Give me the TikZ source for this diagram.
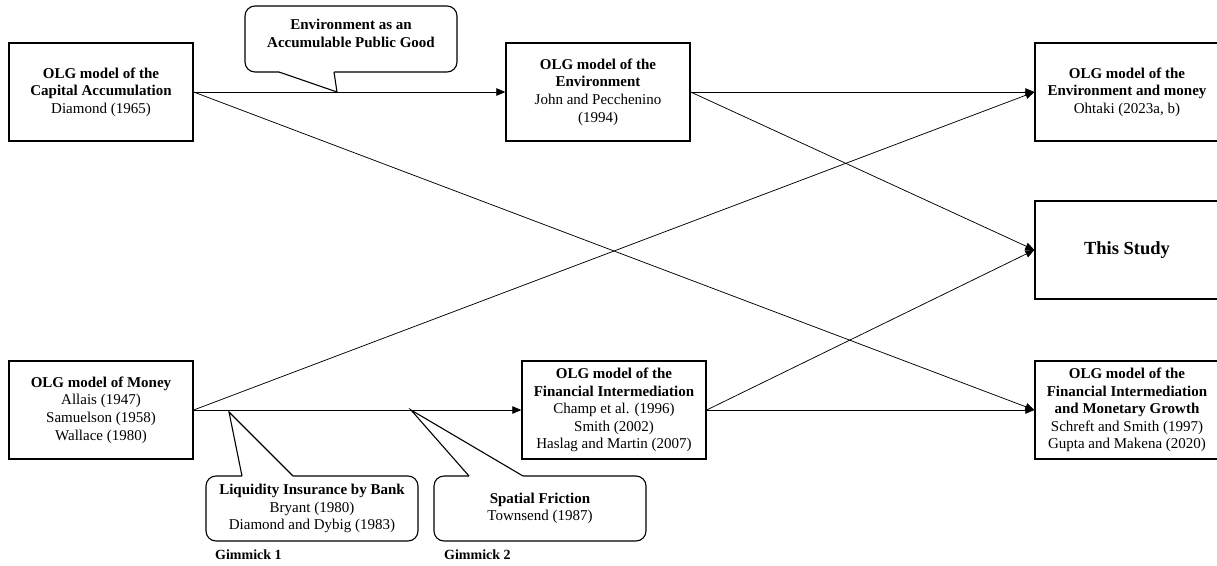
\documentclass[tikz,border=0pt]{standalone}
\usepackage{fontspec}
\setmainfont{Liberation Serif}
\usetikzlibrary{arrows.meta}
\begin{document}
\begin{tikzpicture}[x=1pt,y=-1pt,
  box/.style={draw,line width=1.3pt,minimum width=184pt,minimum height=98pt,inner sep=0pt,align=center,font=\fontsize{15}{17.6}\selectfont},
  conn/.style={line width=0.75pt,-{Triangle[length=9pt,width=7.5pt]}},
  callout/.style={draw,line width=1.1pt,rounded corners=10pt,minimum width=212pt,minimum height=65pt,inner sep=0pt,align=center,font=\fontsize{15}{17.6}\selectfont},
  tail/.style={line width=1.1pt,line join=miter},
  gim/.style={anchor=west,inner sep=0pt,font=\fontsize{14}{16}\selectfont\bfseries}]
\useasboundingbox (0,0) rectangle (1217,565);
% boxes
\node[box] (cap) at (101,92) {\textbf{OLG model of the}\\\textbf{Capital Accumulation}\\Diamond (1965)};
\node[box] (env) at (598,92) {\textbf{OLG model of the}\\\textbf{Environment}\\John and Pecchenino\\(1994)};
\node[box] (envm) at (1127,92) {\textbf{OLG model of the}\\\textbf{Environment and money}\\Ohtaki (2023a, b)};
\node[box] (study) at (1127,250) {\fontsize{18.5}{20}\selectfont\textbf{This Study}};
\node[box] (fimg) at (1127,410) {\textbf{OLG model of the}\\\textbf{Financial Intermediation}\\\textbf{and Monetary Growth}\\Schreft and Smith (1997)\\Gupta and Makena (2020)};
\node[box] (money) at (101,410) {\textbf{OLG model of Money}\\Allais (1947)\\Samuelson (1958)\\Wallace (1980)};
\node[box] (fi) at (614,410) {\textbf{OLG model of the}\\\textbf{Financial Intermediation}\\Champ et al. (1996)\\Smith (2002)\\Haslag and Martin (2007)};
% connectors
\draw[conn] (cap.east) -- (env.west);
\draw[conn] (cap.east) -- (fimg.west);
\draw[conn] (env.east) -- (envm.west);
\draw[conn] (env.east) -- (study.west);
\draw[conn] (money.east) -- (envm.west);
\draw[conn] (money.east) -- (fi.west);
\draw[conn] (fi.east) -- (study.west);
\draw[conn] (fi.east) -- (fimg.west);
% callout 1
\node[callout,minimum height=66pt,text depth=12pt] (c1) at (351,39) {\textbf{Environment as an}\\\textbf{Accumulable Public Good}};
\fill[white] (279,69.5) -- (279,72) -- (337,92) -- (334,72) -- (334,69.5) -- cycle;
\draw[tail] (279,72) -- (337,92) -- (334,72);
% callout 2
\node[callout] (c2) at (312,508.5) {\textbf{Liquidity Insurance by Bank}\\Bryant (1980)\\Diamond and Dybig (1983)};
\fill[white] (242,478.5) -- (242,476) -- (229,412) -- (293,476) -- (293,478.5) -- cycle;
\draw[tail] (242,476) -- (229,412) -- (293,476);
% callout 3
\node[callout] (c3) at (540,508.5) {\textbf{Spatial Friction}\\Townsend (1987)};
\fill[white] (469,478.5) -- (469,476) -- (411,410) -- (523,476) -- (523,478.5) -- cycle;
\draw[tail] (469,476) -- (411,410) -- (523,476);
% labels
\node[gim] (g1) at (215,555) {Gimmick 1};
\node[gim] (g2) at (444,555) {Gimmick 2};
\end{tikzpicture}
\end{document}
